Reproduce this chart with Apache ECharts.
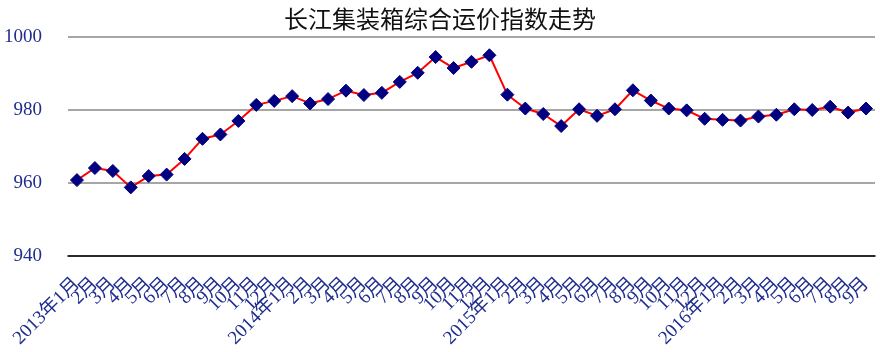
<!DOCTYPE html>
<html><head><meta charset="utf-8">
<script src="https://cdn.jsdelivr.net/npm/echarts@6/dist/echarts.min.js"></script>
<style>html,body{margin:0;padding:0;background:#fff}#c{width:880px;height:352px}</style>
</head><body><div id="c"></div>
<script>
const categories = [
  '2013年1月','2月','3月','4月','5月','6月','7月','8月','9月','10月','11月','12月',
  '2014年1月','2月','3月','4月','5月','6月','7月','8月','9月','10月','11月','12月',
  '2015年1月','2月','3月','4月','5月','6月','7月','8月','9月','10月','11月','12月',
  '2016年1月','2月','3月','4月','5月','6月','7月','8月','9月'
];
const values = [
  960.8, 964.1, 963.3, 958.8, 961.9, 962.3, 966.6, 972.1, 973.3, 977.0, 981.4, 982.5,
  983.8, 981.8, 983.0, 985.3, 984.1, 984.7, 987.7, 990.2, 994.5, 991.5, 993.2, 995.0,
  984.2, 980.4, 978.9, 975.6, 980.2, 978.4, 980.2, 985.4, 982.6, 980.4, 979.9, 977.6,
  977.3, 977.1, 978.2, 978.7, 980.2, 980.0, 980.9, 979.3, 980.4
];
const yTicks = { min: 940, max: 1000, interval: 20 };
const title = '长江集装箱综合运价指数走势';

const chart = echarts.init(document.getElementById('c'));
chart.setOption({
  animation: false,
  title: {
    text: title, left: 'center', top: 2,
    textStyle: { fontFamily: 'Noto Sans CJK SC', fontSize: 24, fontWeight: 'normal', color: '#111' }
  },
  grid: { left: 68, right: 5, top: 37, bottom: 96, outerBoundsMode: 'none', containLabel: false },
  xAxis: {
    type: 'category', data: categories, boundaryGap: true,
    axisLine: { show: true, lineStyle: { color: '#000', width: 1.5 } },
    axisTick: { show: false },
    axisLabel: {
      interval: 0, rotate: 45, margin: 25,
      fontFamily: 'Liberation Serif, Noto Sans CJK SC', fontSize: 19, color: '#1f2d8f'
    },
    splitLine: { show: false }
  },
  yAxis: {
    type: 'value', min: yTicks.min, max: yTicks.max, interval: yTicks.interval,
    axisLine: { show: false }, axisTick: { show: false },
    axisLabel: { margin: 26, fontFamily: 'Liberation Serif', fontSize: 19, color: '#1f2d8f',
      formatter: v => String(v) },
    splitLine: { lineStyle: { color: '#888', width: 1.5 } }
  },
  series: [{
    type: 'line', data: values,
    lineStyle: { color: '#ff0000', width: 2 },
    symbol: 'diamond', symbolSize: 13,
    itemStyle: { color: '#000080', borderColor: '#000080' }
  }]
});
</script></body></html>
